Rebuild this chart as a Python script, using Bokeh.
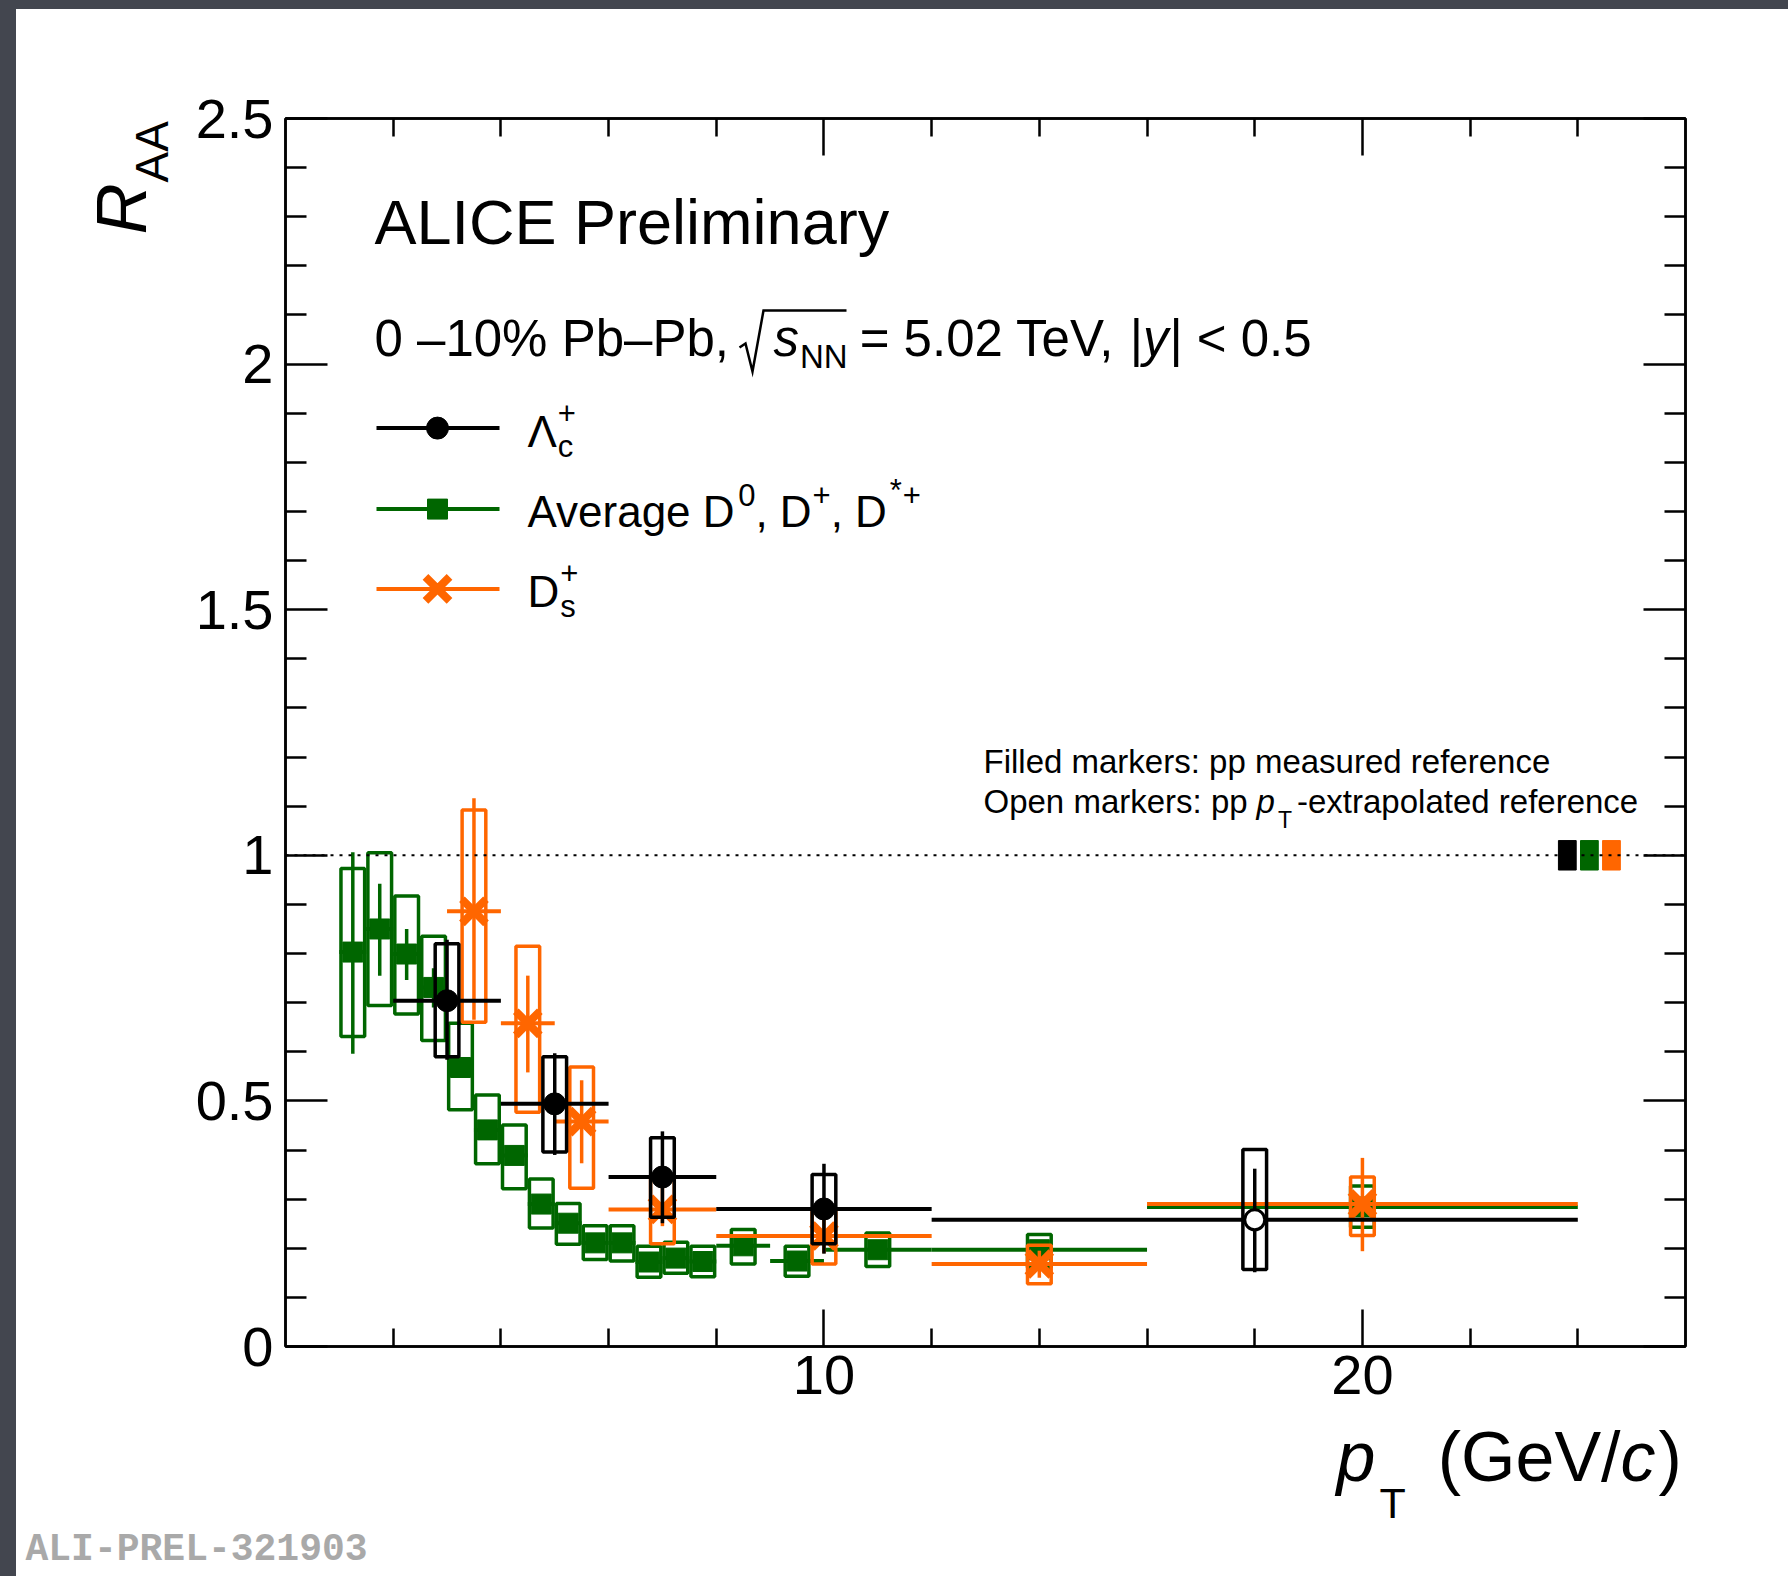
import numpy as np
from bokeh.plotting import figure
from bokeh.models import Range1d, LinearAxis, FixedTicker, Span, Label
from bokeh.layouts import column, row
from bokeh.embed import file_html
from bokeh.resources import INLINE

# ---------------- data ----------------
# Lambda_c+
lc_pt = [3.0, 5.0, 7.0, 10.0, 18.0]
lc_bin_lo = [2.0, 4.0, 6.0, 8.0, 12.0]
lc_bin_hi = [4.0, 6.0, 8.0, 12.0, 24.0]
lc_raa = [0.704, 0.494, 0.345, 0.280, 0.258]
lc_stat_lo = [0.584, 0.390, 0.251, 0.189, 0.151]
lc_stat_hi = [0.828, 0.597, 0.438, 0.372, 0.362]
lc_syst_lo = [0.590, 0.396, 0.263, 0.209, 0.157]
lc_syst_hi = [0.820, 0.590, 0.425, 0.350, 0.401]
lc_extrapolated = [False, False, False, False, True]

# Average D0, D+, D*+
d_bin_lo = [1.0, 1.5, 2.0, 2.5, 3.0, 3.5, 4.0, 4.5, 5.0, 5.5, 6.0, 6.5, 7.0, 7.5, 8.0, 9.0, 10.0, 12.0, 16.0]
d_bin_hi = [1.5, 2.0, 2.5, 3.0, 3.5, 4.0, 4.5, 5.0, 5.5, 6.0, 6.5, 7.0, 7.5, 8.0, 9.0, 10.0, 12.0, 16.0, 24.0]
d_pt = [1.25, 1.75, 2.25, 2.75, 3.25, 3.75, 4.25, 4.75, 5.25, 5.75, 6.25, 6.75, 7.25, 7.75, 8.5, 9.5, 11.0, 14.0, 20.0]
d_raa = [0.803, 0.850, 0.799, 0.731, 0.568, 0.441, 0.389, 0.290, 0.251, 0.211, 0.211, 0.172, 0.180, 0.173, 0.205, 0.174, 0.197, 0.197, 0.284]
d_stat_lo = [0.596, 0.755, 0.746, 0.690, 0.550, 0.428, 0.376, 0.280, 0.243, 0.205, 0.205, 0.166, 0.174, 0.167, 0.198, 0.167, 0.189, 0.188, 0.272]
d_stat_hi = [1.006, 0.942, 0.850, 0.770, 0.586, 0.454, 0.402, 0.300, 0.259, 0.217, 0.217, 0.178, 0.186, 0.179, 0.212, 0.181, 0.205, 0.206, 0.296]
d_syst_lo = [0.631, 0.694, 0.677, 0.623, 0.482, 0.372, 0.321, 0.241, 0.208, 0.177, 0.174, 0.141, 0.149, 0.142, 0.168, 0.143, 0.163, 0.161, 0.243]
d_syst_hi = [0.973, 1.005, 0.917, 0.835, 0.658, 0.512, 0.451, 0.341, 0.291, 0.246, 0.246, 0.204, 0.212, 0.204, 0.238, 0.204, 0.231, 0.228, 0.327]

# Ds+
ds_pt = [3.5, 4.5, 5.5, 7.0, 10.0, 14.0, 20.0]
ds_bin_lo = [3.0, 4.0, 5.0, 6.0, 8.0, 12.0, 16.0]
ds_bin_hi = [4.0, 5.0, 6.0, 8.0, 12.0, 16.0, 24.0]
ds_raa = [0.886, 0.658, 0.458, 0.279, 0.225, 0.168, 0.290]
ds_stat_lo = [0.665, 0.558, 0.373, 0.245, 0.190, 0.140, 0.194]
ds_stat_hi = [1.116, 0.755, 0.542, 0.330, 0.260, 0.195, 0.384]
ds_syst_lo = [0.660, 0.477, 0.322, 0.209, 0.168, 0.128, 0.226]
ds_syst_hi = [1.092, 0.815, 0.569, 0.349, 0.282, 0.206, 0.345]

# normalisation uncertainties (Lambda_c, D average, Ds)
norm_unc = [0.03, 0.03, 0.03]

# axis ticks
x_major = [10, 20]
x_minor = [2, 4, 6, 8, 12, 14, 16, 18, 22, 24]
y_major = [0, 0.5, 1, 1.5, 2, 2.5]
y_labels = ["0", "0.5", "1", "1.5", "2", "2.5"]
y_minor = [round(0.1 * i, 1) for i in range(26) if i % 5 != 0]

# ---------------- style ----------------
BLACK = "#000000"
GREEN = "#006600"
ORANGE = "#ff6600"
FONT = "Liberation Sans"
LW = 3.5
HALF_BOX = 0.22
BASE_SHIFT = 0.38   # baseline correction for Label placement (fraction of font size)

# page geometry (pixels)
PAGE_W, PAGE_H = 1788, 1576
OFF_X, OFF_Y = 16, 9
SPLIT_X, SPLIT_Y = 180, 1419
FL, FT = 285, 118
FW, FH = 1400, 1228
X0, X1, Y0, Y1 = 0.0, 26.0, 0.0, 2.5
SX = FW / (X1 - X0)
SY = FH / (Y1 - Y0)


def dx(px):
    return X0 + (px - FL) / SX


def dy(py):
    return Y0 + (FT + FH - py) / SY


main_w = PAGE_W - SPLIT_X
main_h = SPLIT_Y - OFF_Y
p = figure(width=main_w, height=main_h,
           x_range=Range1d(X0, X1), y_range=Range1d(Y0, Y1),
           x_axis_type=None, y_axis_type=None,
           output_backend="svg", toolbar_location=None,
           min_border_left=FL - SPLIT_X, min_border_top=FT - OFF_Y,
           min_border_right=main_w - (FL - SPLIT_X) - FW,
           min_border_bottom=main_h - (FT - OFF_Y) - FH)
p.background_fill_color = "white"
p.border_fill_color = "white"
p.outline_line_color = "black"
p.outline_line_width = 2.5


def make_axis(ticker, major_len, minor_len, labels):
    ax = LinearAxis(ticker=ticker)
    ax.axis_line_width = 2.5
    ax.major_tick_line_width = 2.5
    ax.minor_tick_line_width = 2.5
    ax.major_tick_in = major_len
    ax.major_tick_out = 0
    ax.minor_tick_in = minor_len
    ax.minor_tick_out = 0
    ax.major_label_text_font = FONT
    ax.major_label_text_color = "black"
    ax.major_label_text_font_size = "56px"
    ax.major_label_overrides = labels
    return ax


xt = FixedTicker(ticks=x_major, minor_ticks=x_minor)
yt = FixedTicker(ticks=y_major, minor_ticks=y_minor)
ylab = {float(v): s for v, s in zip(y_major, y_labels)}
xlab = {float(v): str(v) for v in x_major}

ax_b = make_axis(xt, 37, 18, xlab)
ax_b.major_label_standoff = 9
ax_l = make_axis(yt, 42, 21, ylab)
ax_l.major_label_standoff = 12
p.add_layout(ax_b, "below")
p.add_layout(ax_l, "left")
p.add_layout(make_axis(xt, 37, 18, {float(v): "" for v in x_major}), "above")
p.add_layout(make_axis(yt, 42, 21, {float(v): "" for v in y_major}), "right")

# unity reference line
p.add_layout(Span(location=1.0, dimension="width", line_color="black",
                  line_width=2, line_dash="3 6"))

# normalisation boxes at unity
norm_colors = [BLACK, GREEN, ORANGE]
nb_left = [23.64 + 0.41 * i for i in range(3)]
p.quad(left=nb_left, right=[v + 0.33 for v in nb_left],
       bottom=[1 - u for u in norm_unc], top=[1 + u for u in norm_unc],
       fill_color=norm_colors, line_color=norm_colors, line_width=1)


def draw_series(pt, lo, hi, raa, slo, shi, ylo, yhi, color, marker, size, mlw,
                open_flags=None):
    p.quad(left=[v - HALF_BOX for v in pt], right=[v + HALF_BOX for v in pt],
           bottom=ylo, top=yhi, fill_color=None, line_color=color, line_width=LW)
    p.segment(x0=pt, y0=slo, x1=pt, y1=shi, line_color=color, line_width=LW)
    p.segment(x0=lo, y0=raa, x1=hi, y1=raa, line_color=color, line_width=4)
    if open_flags is None:
        open_flags = [False] * len(pt)
    fx = [x for x, o in zip(pt, open_flags) if not o]
    fy = [y for y, o in zip(raa, open_flags) if not o]
    ox = [x for x, o in zip(pt, open_flags) if o]
    oy = [y for y, o in zip(raa, open_flags) if o]
    if fx:
        p.scatter(fx, fy, marker=marker, size=size, fill_color=color,
                  line_color=color, line_width=mlw)
    if ox:
        p.scatter(ox, oy, marker=marker, size=size - 2, fill_color="white",
                  line_color=color, line_width=3)


draw_series(d_pt, d_bin_lo, d_bin_hi, d_raa, d_stat_lo, d_stat_hi,
            d_syst_lo, d_syst_hi, GREEN, "square", 20, 1)
draw_series(ds_pt, ds_bin_lo, ds_bin_hi, ds_raa, ds_stat_lo, ds_stat_hi,
            ds_syst_lo, ds_syst_hi, ORANGE, "x", 34, 8)
draw_series(lc_pt, lc_bin_lo, lc_bin_hi, lc_raa, lc_stat_lo, lc_stat_hi,
            lc_syst_lo, lc_syst_hi, BLACK, "circle", 22, 1, lc_extrapolated)

# ---------------- text helpers ----------------
AW = {' ': 278, '%': 889, '(': 333, ')': 333, '*': 389, '+': 584, ',': 278,
      '-': 333, '.': 278, '/': 278, ':': 278, '<': 584, '=': 584, '|': 260,
      'A': 667, 'C': 722, 'D': 722, 'E': 667, 'F': 611, 'G': 778, 'I': 278,
      'L': 556, 'N': 722, 'O': 778, 'P': 667, 'R': 722, 'T': 611, 'V': 667,
      'a': 556, 'b': 556, 'c': 500, 'd': 556, 'e': 556, 'f': 278, 'g': 556,
      'i': 222, 'k': 500, 'l': 222, 'm': 833, 'n': 556, 'o': 556, 'p': 556,
      'r': 333, 's': 500, 't': 278, 'u': 556, 'v': 500, 'x': 500, 'y': 500,
      '\u2013': 556, '\u039b': 667}


def width(txt, size):
    return sum(AW.get(c, 556) for c in txt) * size / 1000.0


def make_label(x, y, txt, size, italic=False, bold=False, color="black",
               angle=0.0, font=FONT):
    style = "italic" if italic else ("bold" if bold else "normal")
    return Label(x=x, y=y, text=txt, text_font=font,
                 text_font_size=f"{size}px", text_font_style=style,
                 text_color=color, text_baseline="alphabetic",
                 text_align="left", angle=angle)


def label(x_px, base_px, txt, size, italic=False, color="black"):
    """Text inside the main frame, placed by page pixel / baseline."""
    p.add_layout(make_label(dx(x_px), dy(base_px - BASE_SHIFT * size), txt,
                            size, italic=italic, color=color))


def runs(x_px, base_px, parts):
    cur = x_px
    for txt, size, rise, italic, gap in parts:
        cur += gap
        label(cur, base_px - rise, txt, size, italic)
        cur += width(txt, size)
    return cur


# ---------------- frame texts ----------------
label(374, 245, "ALICE Preliminary", 63)

S2 = 51
runs(374, 357, [("0 \u201310% Pb\u2013Pb,", S2, 0, False, 0)])
# radical sign over s_NN
rad_px = [(739, 347), (745, 343), (752, 371), (763, 310), (846, 310)]
p.line([dx(a) for a, b in rad_px], [dy(b) for a, b in rad_px],
       line_color="black", line_width=2.5, line_join="miter")
runs(773, 357, [("s", S2, 0, True, 0), ("NN", 33, -12, False, 1),
                ("= 5.02 TeV,", S2, 0, False, 12), ("|", S2, 0, False, 5),
                ("y", S2, 0, True, 0), ("|", S2, 0, False, 1),
                ("< 0.5", S2, 0, False, 14)])

# legend
LEG_X0, LEG_X1, LEG_MX, LEG_TX = 376, 499, 437, 527
leg_y = [427.6, 508.6, 588.4]
leg_col = [BLACK, GREEN, ORANGE]
p.segment(x0=[dx(LEG_X0)] * 3, x1=[dx(LEG_X1)] * 3,
          y0=[dy(v) for v in leg_y], y1=[dy(v) for v in leg_y],
          line_color=leg_col, line_width=4)
p.scatter([dx(LEG_MX)], [dy(leg_y[0])], marker="circle", size=22, color=BLACK)
p.scatter([dx(LEG_MX)], [dy(leg_y[1])], marker="square", size=20, color=GREEN)
p.scatter([dx(LEG_MX)], [dy(leg_y[2])], marker="x", size=34, line_color=ORANGE,
          line_width=8)

LS, SS = 44, 31
runs(LEG_TX, 448, [("\u039b", LS, 0, False, 0), ("c", SS, -10, False, 1)])
label(LEG_TX + width("\u039b", LS) + 1, 448 - 24, "+", SS)
runs(LEG_TX, 528, [("Average D", LS, 0, False, 0), ("0", SS, 22, False, 3),
                   (",", LS, 0, False, 0), ("D", LS, 0, False, 12),
                   ("+", SS, 22, False, 1), (",", LS, 0, False, 0),
                   ("D", LS, 0, False, 12), ("*", SS, 26, False, 3),
                   ("+", SS, 22, False, 1)])
runs(LEG_TX, 608, [("D", LS, 0, False, 0), ("s", SS, -10, False, 1)])
label(LEG_TX + width("D", LS) + 1, 608 - 24, "+", SS)

# reference notes
NS = 33
runs(983, 774, [("Filled markers: pp measured reference", NS, 0, False, 0)])
runs(983, 814, [("Open markers: pp", NS, 0, False, 0), ("p", NS, 0, True, 9),
                ("T", 23, -14, False, 3), ("-extrapolated reference", NS, 0, False, 5)])


# ---------------- side strips (y-title and x-title) ----------------
def strip(w, h, x_lo, x_hi, y_top, y_bot):
    f = figure(width=w, height=h, x_range=Range1d(x_lo, x_hi),
               y_range=Range1d(y_bot, y_top), x_axis_type=None, y_axis_type=None,
               output_backend="svg", toolbar_location=None,
               min_border=0, min_border_left=0, min_border_right=0,
               min_border_top=0, min_border_bottom=0)
    f.outline_line_color = None
    f.background_fill_color = "white"
    f.border_fill_color = "white"
    return f


# the strip beside the main plot shares its frame rows, so its y range spans
# the main frame's pixel rows
left = strip(SPLIT_X - OFF_X, main_h, OFF_X, SPLIT_X, FT, FT + FH)
left.add_layout(make_label(148 - BASE_SHIFT * 71, 234, "R", 71, italic=True,
                           angle=np.pi / 2))
left.add_layout(make_label(169 - BASE_SHIFT * 46, 182, "AA", 46,
                           angle=np.pi / 2))

bottom = strip(PAGE_W - OFF_X, PAGE_H - SPLIT_Y, OFF_X, PAGE_W, SPLIT_Y, PAGE_H)


def strip_runs(fig, x_px, base_px, parts):
    cur = x_px
    for txt, size, rise, italic, gap in parts:
        cur += gap
        fig.add_layout(make_label(cur, base_px - rise - BASE_SHIFT * size, txt,
                                  size, italic=italic))
        cur += width(txt, size)


XT = 70
strip_runs(bottom, 1336, 1483, [("p", XT, 0, True, 0), ("T", 43, -36, False, 4),
                                ("(GeV/", XT, 0, False, 32), ("c", XT, 0, True, 0),
                                (")", XT, 0, False, 3)])
bottom.add_layout(make_label(25, 1563 - BASE_SHIFT * 38, "ALI-PREL-321903", 38,
                             bold=True, color="#a9a9a9", font="Liberation Mono"))

inner = column(row(left, p), bottom, styles={"background-color": "white"})
inner.margin = (OFF_Y, 0, 0, OFF_X)
page = column(inner, width=PAGE_W, height=PAGE_H,
              styles={"background-color": "#43464f"})
open("out.html", "w").write(file_html(page, INLINE, "R_AA charm hadrons"))
